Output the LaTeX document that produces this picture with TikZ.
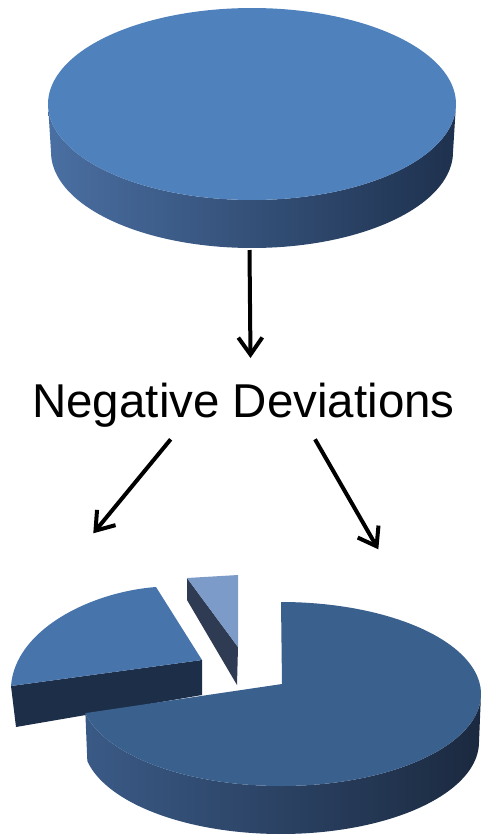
\documentclass[tikz,border=0pt]{standalone}
\usepackage{fontspec}
\setmainfont{Liberation Sans}
\usetikzlibrary{arrows.meta}
\definecolor{topf}{RGB}{79,129,189}
\definecolor{dsL}{RGB}{74,111,162}
\definecolor{dsM}{RGB}{48,78,120}
\definecolor{dsR}{RGB}{30,49,78}
\definecolor{bigTop}{RGB}{58,96,141}
\definecolor{bsL}{RGB}{58,90,134}
\definecolor{bsM}{RGB}{42,68,104}
\definecolor{bsR}{RGB}{27,41,63}
\definecolor{medTop}{RGB}{70,116,171}
\definecolor{medFront}{RGB}{28,46,72}
\definecolor{smTop}{RGB}{125,155,200}
\definecolor{smDark}{RGB}{47,59,82}
\begin{document}
\begin{tikzpicture}[x=1pt,y=-1pt,
  arr/.style={line width=4pt, -{Straight Barb[length=17pt,width=24pt]}},
  lbl/.style={font=\fontsize{47.5}{57}\selectfont, anchor=base, inner sep=0pt}]
\useasboundingbox (0,0) rectangle (482,838);
% ---- top disk ----
\shade[left color=dsL, middle color=dsM, right color=dsR]
  plot[domain=0:180,samples=90] ({252+204*cos(\x)},{104+96*sin(\x)})
  -- plot[domain=180:0,samples=90] ({252+201*cos(\x)},{152+96*sin(\x)}) -- cycle;
\fill[topf] plot[domain=0:360,samples=180] ({252+204*cos(\x)},{104+96*sin(\x)}) -- cycle;
\coordinate (disk) at (249.5,250);
% ---- label ----
\node[lbl] (neg) at (243.5,417) {Negative Deviations};
\coordinate (negtop) at (250.5,358);
\coordinate (negL) at (170.7,439.3);
\coordinate (negR) at (315,439.3);
\coordinate (pieL) at (93.3,533.3);
\coordinate (pieR) at (378.3,549.3);
\draw[arr] (disk) -- (negtop);
\draw[arr] (negL) -- (pieL);
\draw[arr] (negR) -- (pieR);
% ---- medium slice ----
\fill[medFront] (11,686) -- (202,660) -- (202,695) -- (16,727) -- cycle;
\fill[medTop] (156,587) .. controls (90,592) and (15,630) .. (11,686) -- (202,660) -- cycle;
% ---- small slice ----
\fill[smDark] (187,578) -- (238,647) -- (237,685) -- (187,600) -- cycle;
\fill[smTop] (187,578) -- (238,575) -- (238,647) -- cycle;
% ---- big slice ----
\shade[left color=bsL, middle color=bsM, right color=bsR]
  plot[domain=0:168,samples=90] ({281+200*cos(\x)},{694+92*sin(\x)})
  -- plot[domain=168:0,samples=90] ({281+198*cos(\x)},{742+92*sin(\x)}) -- cycle;
\fill[bigTop] (282,684) -- plot[domain=-90:168,samples=130] ({281+200*cos(\x)},{694+92*sin(\x)}) -- cycle;
\end{tikzpicture}
\end{document}
